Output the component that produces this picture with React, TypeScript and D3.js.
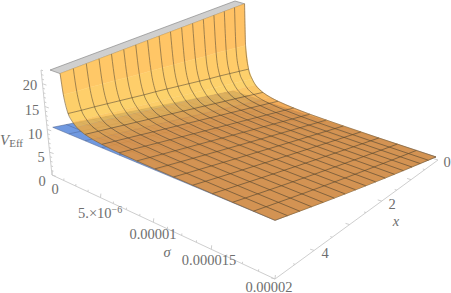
import React from "react";
import * as d3 from "d3";

const W = 451, H = 293;
const SIGMA_MAX = 2e-5, X_MAX = 5, Z_CLIP = 22;
const SIGMA_CELLS = 12;

// sigma samples as fraction of the range; mesh lines fall on twelfths
const sigmaFractions = [0.05, 0.0625, 1 / 12, 0.105, 1.5 / 12, 2 / 12, 2.5 / 12, 3 / 12, 4 / 12, 5 / 12, 6 / 12, 7 / 12, 8 / 12, 9 / 12, 10 / 12, 11 / 12, 1];
// height of the orange surface above the blue plane, read at x = 0
const wallProfile = [40, 12, 6.5, 4.4, 3.2, 2, 1.4, 1.05, 0.65, 0.42, 0.3, 0.22, 0.16, 0.11, 0.08, 0.05, 0.02];
const xGrid = [0, 0.3125, 0.625, 0.9375, 1.25, 1.5625, 1.875, 2.1875, 2.5, 2.8125, 3.125, 3.4375, 3.75, 4.0625, 4.375, 4.6875, 5];
const wallByX = [1, 0.98, 0.96, 0.94, 0.91, 0.89, 0.87, 0.85, 0.83, 0.81, 0.78, 0.76, 0.74, 0.72, 0.7, 0.67, 0.65];
// blue plane height along x
const blueAtX = [0, 0.625, 1.25, 1.875, 2.5, 3.125, 3.75, 4.375, 5, 5.625, 6.25, 6.875, 7.5, 8.125, 8.75, 9.375, 10];

const zTicks = [0, 5, 10, 15, 20];
const zLabelPos: [number, number][] = [[42, 186], [41, 162], [35, 139], [32, 115], [30, 90]];
const xTicks = [0, 2, 4];
const xLabelPos: [number, number][] = [[447, 167], [392, 209], [325, 258]];

type P = [number, number];
const base: P[] = [[55, 175], [275, 279], [436, 157], [233, 91]]; // σ0x5, σmx5, σmx0, σ0x0
const top: P[] = [[50, 70], [275, 150], [445, 62], [235, 1]];
const axisBase: P[] = [[52, 175], [275, 279], [438, 160], [233, 91]];

// unit square -> quad: (u=σ fraction, v=x fraction)
function quadMap(q: P[]) {
  const [p01, p11, p10, p00] = q;
  const dx1 = p10[0] - p11[0], dx2 = p01[0] - p11[0], sx = p00[0] - p10[0] + p11[0] - p01[0];
  const dy1 = p10[1] - p11[1], dy2 = p01[1] - p11[1], sy = p00[1] - p10[1] + p11[1] - p01[1];
  const den = dx1 * dy2 - dx2 * dy1;
  const g = (sx * dy2 - dx2 * sy) / den, h = (dx1 * sy - sx * dy1) / den;
  const a = p10[0] - p00[0] + g * p10[0], b = p01[0] - p00[0] + h * p01[0], c = p00[0];
  const d = p10[1] - p00[1] + g * p10[1], e = p01[1] - p00[1] + h * p01[1], f = p00[1];
  return (u: number, v: number): P => {
    const w = g * u + h * v + 1;
    return [(a * u + b * v + c) / w, (d * u + e * v + f) / w];
  };
}
const mapBase = quadMap(base), mapTop = quadMap(top), mapAxis = quadMap(axisBase);
const uScale = d3.scaleLinear().domain([0, SIGMA_MAX]).range([0, 1]);
const vScale = d3.scaleLinear().domain([0, X_MAX]).range([0, 1]);
const zScale = d3.scaleLinear().domain([0, Z_CLIP]).range([0, 1]);

function project(frac: number, x: number, z: number): P {
  const b = mapBase(frac, vScale(x)), t = mapTop(frac, vScale(x)), k = zScale(z);
  return [b[0] + (t[0] - b[0]) * k, b[1] + (t[1] - b[1]) * k];
}
const poly = (pts: P[]) => (d3.line()(pts) ?? "") + "Z";
const orangeZ = (si: number, xi: number) => Math.min(Z_CLIP, blueAtX[xi] + wallProfile[si] * wallByX[xi]);
const cellColor = d3.scaleLinear<string>().domain([0, 0.6, 1.4, 3.5, 9, 22]).range(["#ec9230", "#ec9230", "#f5a536", "#fcc848", "#ffc044", "#ffab3c"]);

const isMesh = (f: number) => Math.abs(f * SIGMA_CELLS - Math.round(f * SIGMA_CELLS)) < 1e-6;

export default function App() {
  const cells: React.ReactNode[] = [];
  for (let s = 0; s < sigmaFractions.length - 1; s++) {
    for (let i = 0; i < xGrid.length - 1; i++) {
      const a = project(sigmaFractions[s], xGrid[i], orangeZ(s, i));
      const b = project(sigmaFractions[s], xGrid[i + 1], orangeZ(s, i + 1));
      const c = project(sigmaFractions[s + 1], xGrid[i + 1], orangeZ(s + 1, i + 1));
      const d = project(sigmaFractions[s + 1], xGrid[i], orangeZ(s + 1, i));
      const ex = Math.min(22, (Math.min(22, wallProfile[s]) + wallProfile[s + 1]) / 2 * wallByX[i]);
      const fill = cellColor(ex);
      cells.push(<path key={`${s}-${i}`} d={poly([a, b, c, d])} fill={fill} stroke={fill} strokeWidth={0.4} />);
    }
  }
  const meshS = sigmaFractions.map((f, s) => ({ f, s })).filter(o => isMesh(o.f));
  const line = d3.line();
  const smooth = d3.line().curve(d3.curveMonotoneX);
  const blueFrac = d3.range(SIGMA_CELLS + 1).map(k => k / SIGMA_CELLS);
  const blueP = (f: number, x: number, i: number) => project(f, x, blueAtX[i]);
  const bluePoly = [blueP(0, 5, 16), blueP(1, 5, 16), blueP(1, 0, 0), blueP(0, 0, 0)];
  const textFill = "#6e6e6e";
  const font = "'Liberation Serif', 'Times New Roman', serif";

  const zAxisAt = (z: number): P => {
    const k = z / 23;
    return [52 + (41 - 52) * k, 175 + (70 - 175) * k];
  };
  return (
    <svg width={W} height={H} style={{ position: "absolute", left: 0, top: 0, background: "#fff" }} fontFamily={font}>
      {/* axes */}
      <g stroke="#c8c8c8" strokeWidth={0.9} fill="none">
        <path d={line([zAxisAt(0), zAxisAt(23)]) ?? ""} />
        <path d={line([axisBase[0], axisBase[1]]) ?? ""} />
        <path d={line([axisBase[1], axisBase[2]]) ?? ""} />
        {d3.range(0, 24).map(z => {
          const p = zAxisAt(z);
          const len = z % 5 === 0 ? 4 : 2;
          return <path key={z} d={line([p, [p[0] + len, p[1] + len * 0.35]]) ?? ""} />;
        })}
        {d3.range(0, 17).map(k => {
          const p = mapAxis(uScale(k * 1.25e-6), 1);
          const len = k % 4 === 0 ? 4 : 2;
          return <path key={k} d={line([p, [p[0] + len * 0.1, p[1] - len]]) ?? ""} />;
        })}
        {d3.range(0, 11).map(k => {
          const p = mapAxis(1, vScale(k * 0.5));
          const len = k % 2 === 0 ? 4 : 2;
          return <path key={k} d={line([p, [p[0] - len, p[1] - len * 0.3]]) ?? ""} />;
        })}
      </g>

      {/* gray clip cap */}
      <path d={poly([project(0, 5, Z_CLIP), project(sigmaFractions[0], 5, Z_CLIP), project(sigmaFractions[0], 0, Z_CLIP), project(0, 0, Z_CLIP)])} fill="#cfcfcf" stroke="#8a8a8a" strokeWidth={0.7} />

      {/* blue plane */}
      <path d={poly(bluePoly)} fill="#7099e0" stroke="#4a5f88" strokeWidth={0.5} />
      <g stroke="#3c4f78" strokeWidth={0.5} strokeOpacity={0.7} fill="none">
        {blueFrac.slice(1, -1).map(f => <path key={"bs" + f} d={line([blueP(f, 0, 0), blueP(f, 5, 16)]) ?? ""} />)}
        {xGrid.slice(1, -1).map((x, i) => <path key={"bx" + x} d={line([blueP(0, x, i + 1), blueP(1, x, i + 1)]) ?? ""} />)}
      </g>

      {/* orange surface */}
      <g opacity={0.8}>{cells}</g>
      <g stroke="#4f3f28" strokeWidth={0.8} strokeOpacity={0.68} fill="none">
        {xGrid.slice(1, -1).map((x, i) => (
          <path key={"r" + i} d={smooth(sigmaFractions.map((f, s) => project(f, x, orangeZ(s, i + 1)))) ?? ""} />
        ))}
        {meshS.slice(0, -1).map(o => (
          <path key={"m" + o.s} d={line(xGrid.map((x, i) => project(o.f, x, orangeZ(o.s, i)))) ?? ""} />
        ))}
      </g>
      {/* surface outline */}
      <g stroke="#6e5a3c" strokeWidth={0.7} strokeOpacity={0.85} fill="none">
        <path d={smooth(sigmaFractions.map((f, s) => project(f, 5, orangeZ(s, 16)))) ?? ""} />
        <path d={smooth(sigmaFractions.map((f, s) => project(f, 0, orangeZ(s, 0)))) ?? ""} />
        <path d={line(xGrid.map((x, i) => project(1, x, orangeZ(sigmaFractions.length - 1, i)))) ?? ""} />
      </g>

      {/* tick labels */}
      <g fill={textFill} fontSize={14.5} textAnchor="middle">
        {zTicks.map((z, i) => <text key={z} x={zLabelPos[i][0]} y={zLabelPos[i][1]}>{z}</text>)}
        <text x={55} y={194}>0</text>
        <text x={153} y={239}>0.00001</text>
        <text x={209} y={265}>0.000015</text>
        <text x={269} y={291.5}>0.00002</text>
        <text x={78} y={218} textAnchor="start">5.×10<tspan fontSize={10} dy={-5}>−6</tspan></text>
        {xTicks.map((x, i) => <text key={x} x={xLabelPos[i][0]} y={xLabelPos[i][1]}>{x}</text>)}
        <text x={396} y={226} fontStyle="italic">x</text>
        <text x={167} y={257} fontStyle="italic">σ</text>
        <text x={0} y={145} textAnchor="start" fontStyle="italic" fontSize={15}>V<tspan fontSize={11} fontStyle="normal" dy={2}>Eff</tspan></text>
      </g>
    </svg>
  );
}
